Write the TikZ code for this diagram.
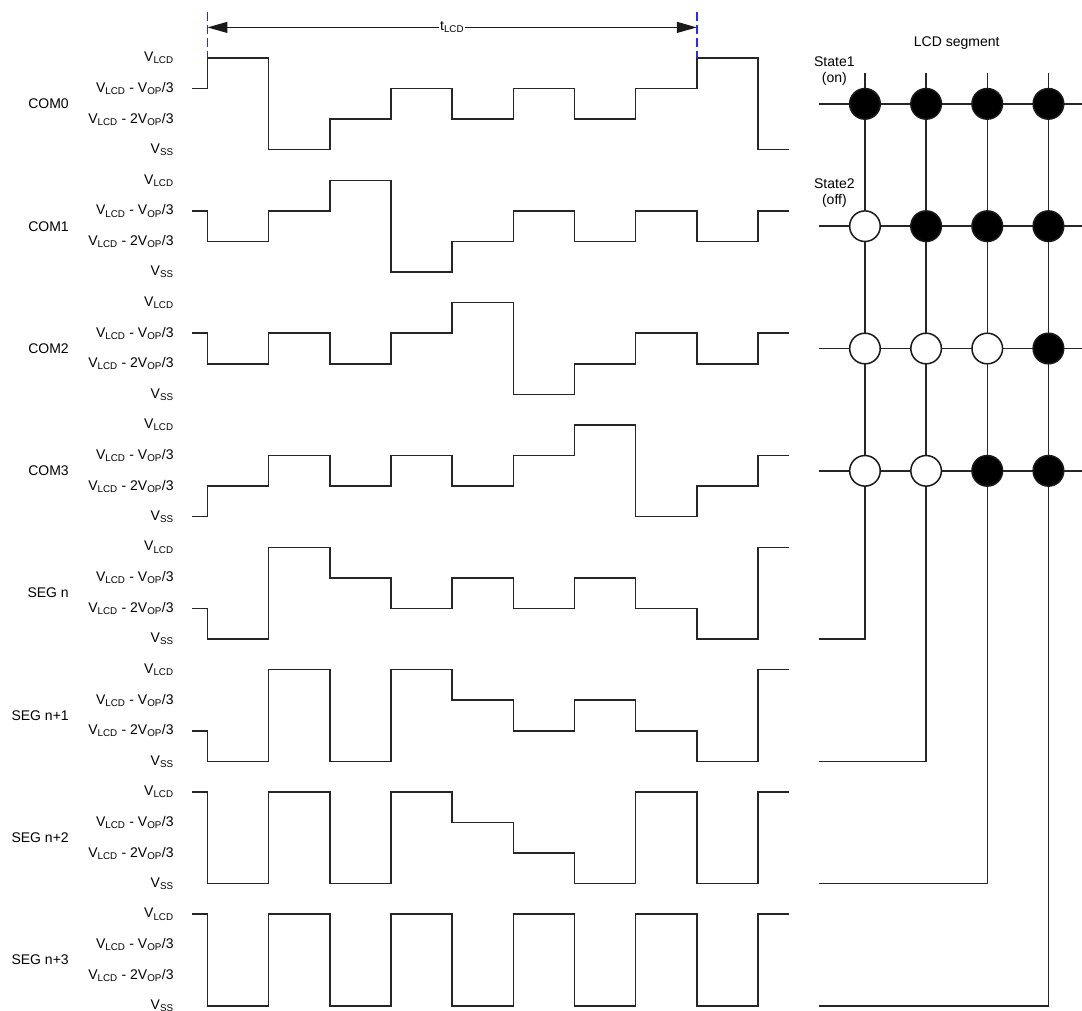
\documentclass[tikz,border=0pt]{standalone}
\usepackage{fontspec}
\setmainfont{Liberation Sans}
\usetikzlibrary{arrows.meta}
\definecolor{dashblue}{RGB}{40,40,255}
\newcommand\drawwave[4]{%
  \draw[wave] (0.5,{4*#1+#2})
    \foreach \lv [count=\i from 0] in {#3} { -| ({1+2*\i},{4*#1+\lv}) }
    -| (19,{4*#1+#4}) -- (20,{4*#1+#4});
}
\begin{document}
\begin{tikzpicture}[x=1pt,y=-1pt,font=\fontsize{14}{16}\selectfont,
  wave/.style={line width=1.5pt,draw=black!85,line join=miter},
  lvl/.style={anchor=east,inner sep=0pt},
  sig/.style={anchor=east,inner sep=0pt},
  mline/.style={line width=1.5pt,draw=black!85},
  dot/.style={circle,draw=black!90,line width=1.5pt,minimum size=30.6pt,inner sep=0pt},
  segon/.style={dot,fill=black},
  segoff/.style={dot,fill=white},
  tick/.style={draw=dashblue,line width=1.5pt,dash pattern=on 9pt off 4pt},
  tarrow/.style={line width=1.2pt,draw=black!90,{Triangle[length=20pt,width=11pt]}-{Triangle[length=20pt,width=11pt]}}]
\fill[white] (0,0) rectangle (1082,1011);
\useasboundingbox (0,0) rectangle (1082,1011);
\begin{scope}[shift={(176.9pt,-58pt)},x=30.58pt,y=-30.58pt]
  % labels
  \foreach \p/\nm in {0/COM0,1/COM1,2/COM2,3/COM3,4/SEG n,5/SEG n+1,6/SEG n+2,7/SEG n+3} {
    \node[sig] (name\p) at (-3.53,{4*\p+1.5}) {\nm};
    \node[lvl] (lvA\p) at (-0.1,{4*\p}) {V\textsubscript{LCD}};
    \node[lvl] (lvB\p) at (-0.1,{4*\p+1}) {V\textsubscript{LCD} - V\textsubscript{OP}/3};
    \node[lvl] (lvC\p) at (-0.1,{4*\p+2}) {V\textsubscript{LCD} - 2V\textsubscript{OP}/3};
    \node[lvl] (lvD\p) at (-0.1,{4*\p+3}) {V\textsubscript{SS}};
  }
  % waveforms
  \drawwave{0}{1}{0,3,2,1,2,1,2,1,0}{3}
  \drawwave{1}{1}{2,1,0,3,2,1,2,1,2}{1}
  \drawwave{2}{1}{2,1,2,1,0,3,2,1,2}{1}
  \drawwave{3}{3}{2,1,2,1,2,1,0,3,2}{1}
  \drawwave{4}{2}{3,0,1,2,1,2,1,2,3}{0}
  \drawwave{5}{2}{3,0,3,0,1,2,1,2,3}{0}
  \drawwave{6}{0}{3,0,3,0,1,2,3,0,3}{0}
  \drawwave{7}{0}{3,0,3,0,3,0,3,0,3}{0}
  % t_LCD arrow
  \coordinate (tA) at (1,-1);
  \coordinate (tB) at (17,-1);
  \draw[tarrow] (tA) -- (tB) node[midway,fill=white,inner sep=1pt] (tl) {t\textsubscript{LCD}};
  \coordinate (k1t) at (1,-1.52); \coordinate (k1b) at (1,0);
  \coordinate (k2t) at (17,-1.52); \coordinate (k2b) at (17,0);
  \draw[tick] (k1t) -- (k1b);
  \draw[tick] (k2t) -- (k2b);
  % LCD segment matrix
  \foreach \c/\b [count=\k] in {22.5/19,24.5/23,26.5/27,28.5/31} {
    \coordinate (ct\k) at (\c,0.5);
    \coordinate (cb\k) at (\c,\b);
    \coordinate (cs\k) at (21,\b);
    \draw[mline] (ct\k) -- (cb\k) -- (cs\k);
  }
  \foreach \r [count=\k] in {1.5,5.5,9.5,13.5} {
    \coordinate (rl\k) at (21,\r);
    \coordinate (rr\k) at (29.7,\r);
    \draw[mline] (rl\k) -- (rr\k);
  }
  \foreach \r/\sa/\sb/\sc/\sd [count=\k] in {1.5/segon/segon/segon/segon,5.5/segoff/segon/segon/segon,9.5/segoff/segoff/segoff/segon,13.5/segoff/segoff/segon/segon} {
    \node[\sa] (d\k-1) at (22.5,\r) {};
    \node[\sb] (d\k-2) at (24.5,\r) {};
    \node[\sc] (d\k-3) at (26.5,\r) {};
    \node[\sd] (d\k-4) at (28.5,\r) {};
  }
  \node (lcdseg) at (25.5,-0.5) {LCD segment};
  \node[align=center,inner sep=0pt] (st1) at (21.5,0.43) {State1\\(on)};
  \node[align=center,inner sep=0pt] (st2) at (21.5,4.43) {State2\\(off)};
\end{scope}
\end{tikzpicture}
\end{document}
